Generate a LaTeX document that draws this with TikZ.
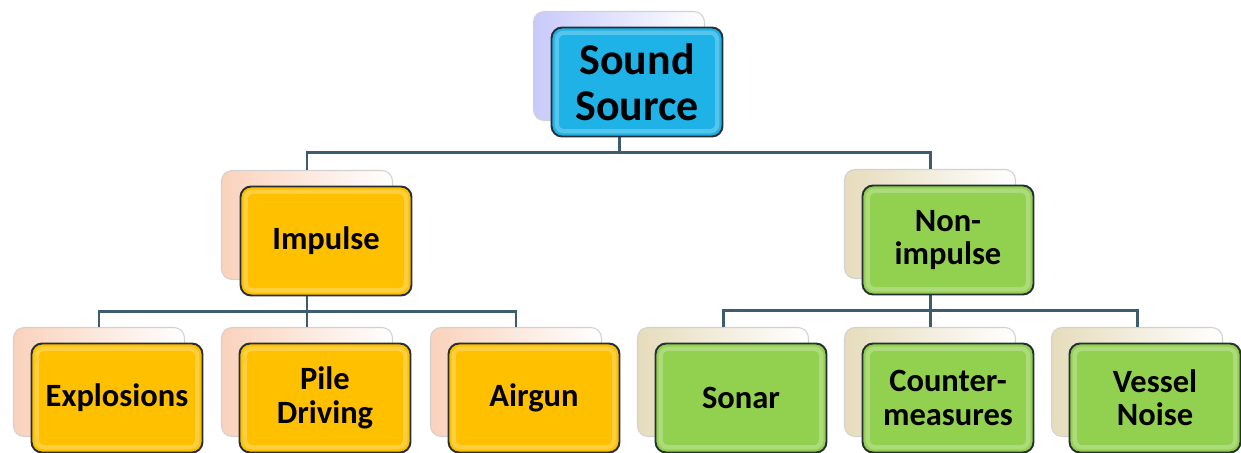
\documentclass[tikz,border=0pt]{standalone}
\usepackage{fontspec}
\setmainfont{Carlito}

\definecolor{srcblue}{RGB}{30,178,230}
\definecolor{impyellow}{RGB}{255,192,0}
\definecolor{nonigreen}{RGB}{146,208,80}
\definecolor{srcghost}{RGB}{200,202,250}
\definecolor{impghost}{RGB}{250,210,188}
\definecolor{nonighost}{RGB}{230,220,188}
\definecolor{linkgray}{RGB}{62,92,112}
\definecolor{rimdark}{RGB}{38,46,54}

\begin{document}
\begin{tikzpicture}[x=0.02cm,y=-0.02cm,
  box/.style={rounded corners=6pt, minimum width=3.42cm, minimum height=2.18cm,
    align=center, inner sep=2pt, font=\bfseries\fontsize{18.5}{19}\selectfont},
  front/.style={box, draw=rimdark, line width=1.1pt,
    path picture={\draw[white, opacity=0.25, line width=2.5pt, rounded corners=4pt]
      ([shift={(3pt,-3pt)}]path picture bounding box.north west) rectangle
      ([shift={(-3pt,3pt)}]path picture bounding box.south east);}},
  ghost/.style={box, draw=black!18, line width=0.6pt, right color=white},
  link/.style={draw=linkgray, line width=1.7pt}]

  \useasboundingbox (0,0) rectangle (1241,453);

  % ghost boxes, the connectors hang on these
  \node[ghost, left color=srcghost] (src) at (619,66) {};
  \node[ghost, left color=impghost] (imp) at (307,225) {};
  \node[ghost, left color=nonighost] (nonimp) at (930,224) {};
  \node[ghost, left color=impghost] (expl) at (99,382) {};
  \node[ghost, left color=impghost] (pile) at (307,382) {};
  \node[ghost, left color=impghost] (air) at (516,382) {};
  \node[ghost, left color=nonighost] (sonar) at (723,382) {};
  \node[ghost, left color=nonighost] (counter) at (930,382) {};
  \node[ghost, left color=nonighost] (vessel) at (1137,382) {};

  % connectors
  \draw[link] (src.south) -- ++(0,31) -| (imp.north);
  \draw[link] (src.south) -- ++(0,31) -| (nonimp.north);
  \draw[link] (imp.south) -- ++(0,31) -| (expl.north);
  \draw[link] (imp.south) -- ++(0,31) -| (pile.north);
  \draw[link] (imp.south) -- ++(0,31) -| (air.north);
  \draw[link] (nonimp.south) -- ++(0,31) -| (sonar.north);
  \draw[link] (nonimp.south) -- ++(0,31) -| (counter.north);
  \draw[link] (nonimp.south) -- ++(0,31) -| (vessel.north);

  % front boxes with the labels
  \node[front, fill=srcblue, font=\bfseries\fontsize{25}{26}\selectfont] (src-f) at (637,82) {Sound\\Source};
  \node[front, fill=impyellow] (imp-f) at (326,241) {Impulse};
  \node[front, fill=nonigreen] (nonimp-f) at (948,240) {Non-\\impulse};
  \node[front, fill=impyellow] (expl-f) at (117,398) {Explosions};
  \node[front, fill=impyellow] (pile-f) at (325,398) {Pile\\Driving};
  \node[front, fill=impyellow] (air-f) at (534,398) {Airgun};
  \node[front, fill=nonigreen] (sonar-f) at (741,398) {Sonar};
  \node[front, fill=nonigreen] (counter-f) at (948,398) {Counter-\\measures};
  \node[front, fill=nonigreen] (vessel-f) at (1155,398) {Vessel\\Noise};

\end{tikzpicture}
\end{document}
